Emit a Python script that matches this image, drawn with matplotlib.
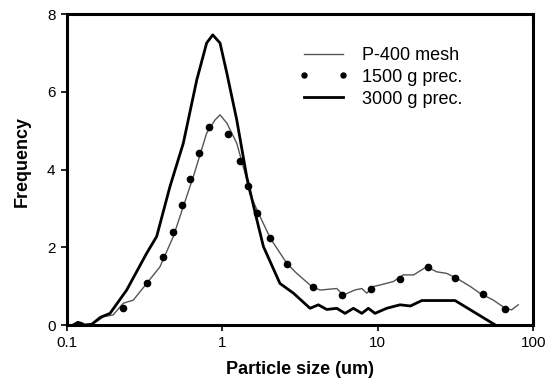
import matplotlib
matplotlib.use("Agg")
import matplotlib.pyplot as plt
from matplotlib.ticker import FixedLocator, NullLocator

plt.rcParams['font.family'] = ['Liberation Sans', 'DejaVu Sans']

# P-400 mesh (thin grey line)
mesh_x = [0.145, 0.16, 0.172, 0.199, 0.231, 0.268, 0.327, 0.398, 0.485, 0.562,
          0.652, 0.794, 0.899, 0.968, 1.07, 1.24, 1.44, 1.5, 1.71, 2.04, 2.6,
          3.01, 3.77, 4.26, 5.45, 6.0, 7.1, 7.9, 8.5, 9.35, 10.35, 12.6, 14.6,
          17.0, 20.6, 23.9, 27.7, 32.3, 39.4, 45.7, 55.4, 66.0, 72.5, 80.0]
mesh_y = [0.02, 0.12, 0.21, 0.26, 0.56, 0.64, 1.07, 1.5, 2.28, 3.05,
          3.82, 4.94, 5.28, 5.41, 5.2, 4.68, 3.74, 3.39, 2.88, 2.23, 1.59,
          1.33, 0.99, 0.9, 0.94, 0.77, 0.9, 0.94, 0.82, 0.99, 1.03, 1.12, 1.29,
          1.29, 1.5, 1.37, 1.33, 1.2, 0.99, 0.81, 0.64, 0.43, 0.39, 0.52]

# 1500 g prec. (dots)
prec1500_x = [0.231, 0.327, 0.418, 0.485, 0.553, 0.62, 0.71, 0.82, 1.09, 1.3,
              1.47, 1.68, 2.04, 2.62, 3.82, 5.9, 9.1, 13.9, 20.9, 31.4, 47.3, 66.0]
prec1500_y = [0.43, 1.07, 1.76, 2.4, 3.09, 3.75, 4.42, 5.1, 4.92, 4.23,
              3.58, 2.89, 2.23, 1.56, 0.99, 0.77, 0.94, 1.18, 1.49, 1.2, 0.81, 0.40]

# 3000 g prec. (thick black line)
prec3000_x = [0.11, 0.118, 0.125, 0.13, 0.145, 0.165, 0.19, 0.243, 0.327, 0.379,
              0.461, 0.562, 0.686, 0.794, 0.869, 0.968, 1.07, 1.24, 1.44, 1.63,
              1.84, 2.35, 2.87, 3.67, 4.15, 4.7, 5.45, 6.16, 6.97, 7.9, 8.7, 9.6,
              11.4, 13.9, 16.2, 19.2, 31.4, 57.0]
prec3000_y = [0.0, 0.07, 0.04, 0.0, 0.02, 0.2, 0.3, 0.9, 1.85, 2.28,
              3.56, 4.68, 6.31, 7.26, 7.47, 7.26, 6.49, 5.28, 3.8, 2.88,
              2.02, 1.07, 0.82, 0.43, 0.52, 0.40, 0.43, 0.30, 0.43, 0.30, 0.43, 0.30,
              0.43, 0.52, 0.49, 0.63, 0.63, 0.0]

fig = plt.figure(figsize=(5.57, 3.86), dpi=100)
ax = fig.add_axes([0.1197, 0.158, 0.8378, 0.805])

ax.plot(mesh_x, mesh_y, color='#555555', lw=1.0, label='P-400 mesh')
ax.plot(prec1500_x, prec1500_y, ls='none', marker='o', ms=4.5, color='black',
        label='1500 g prec.')
ax.plot(prec3000_x, prec3000_y, color='black', lw=2.0, label='3000 g prec.')

ax.set_xscale('log')
ax.set_xlim(0.1, 100)
ax.set_ylim(0, 8)
ax.xaxis.set_major_locator(FixedLocator([0.1, 1, 10, 100]))
ax.xaxis.set_minor_locator(NullLocator())
ax.set_xticklabels(['0.1', '1', '10', '100'])
ax.set_yticks([0, 2, 4, 6, 8])

for s in ax.spines.values():
    s.set_linewidth(2.2)
ax.tick_params(direction='out', length=4, width=1.2, labelsize=11, pad=4)

ax.set_xlabel('Particle size (um)', fontsize=13, fontweight='bold')
ax.set_ylabel('Frequency', fontsize=13, fontweight='bold')
ax.xaxis.set_label_coords(0.5, -0.115)
ax.yaxis.set_label_coords(-0.076, 0.525)

ax.legend(loc='upper left', bbox_to_anchor=(0.496, 0.895), frameon=False,
          fontsize=13, numpoints=2, handlelength=2.8, handletextpad=0.75,
          labelspacing=0.27, borderpad=0, borderaxespad=0, markerscale=0.8)

fig.savefig('out.png', dpi=100)
